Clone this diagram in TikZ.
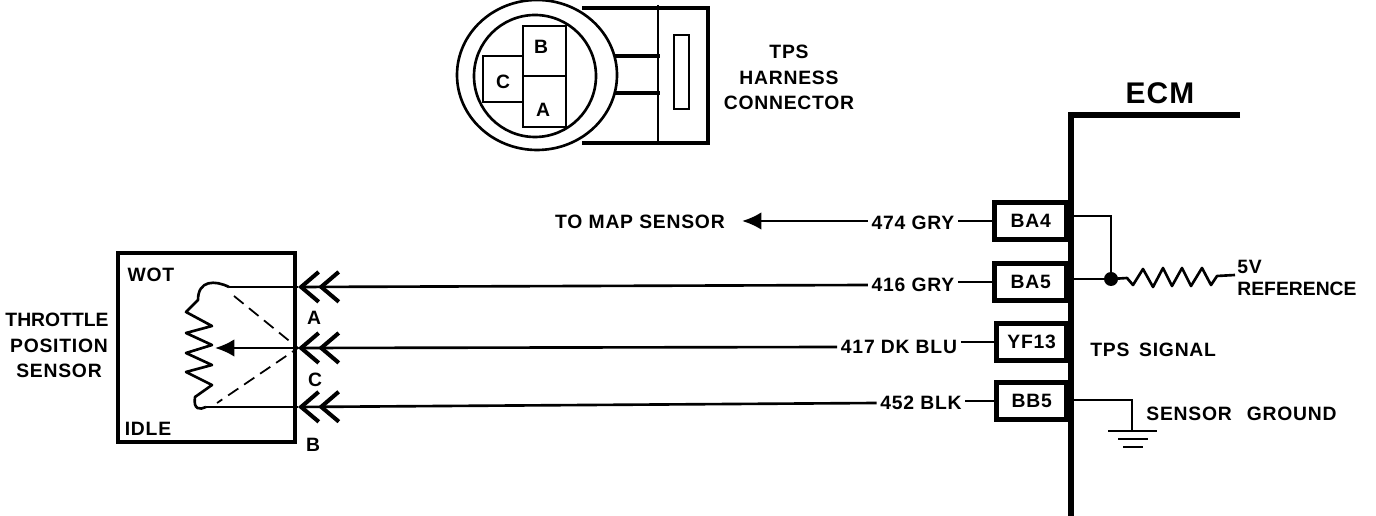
\documentclass[tikz,border=0pt]{standalone}
\usepackage{fontspec}
\setmainfont[LetterSpace=4]{Liberation Sans}
\newfontfamily\narrowfont[LetterSpace=0]{Liberation Sans}
\usetikzlibrary{arrows.meta}
\begin{document}
\begin{tikzpicture}[
    x=0.02cm,y=-0.02cm,
    line/.style={line width=1.5pt, black},
    thick line/.style={line width=2.8pt, black},
    plug/.style={line, -{Straight Barb[length=10pt,width=17pt,line width=2.3pt,sep=-1.5pt] Straight Barb[length=10pt,width=17pt,line width=2.3pt]}},
    label/.style={font=\bfseries\fontsize{11}{12}\selectfont, inner sep=2pt},
    leftlabel/.style={label, anchor=west, inner sep=0pt},
    pin/.style={draw, line width=2.6pt, label, minimum height=0.74cm, inner sep=0pt, anchor=east}
    ]
    \useasboundingbox (0, 0) rectangle (1376, 516);
    % harness connector
    \draw[line] (537, 75) ellipse [x radius=80, y radius=75];
    \draw[line] (535, 76) circle [radius=61];
    \draw[line] (523, 26) rectangle (566, 76);
    \draw[line] (523, 76) rectangle (566, 127);
    \draw[line] (523, 56) -- (483, 56) -- (483, 102) -- (523, 102);
    \draw[thick line] (582, 8) -- (708, 8) -- (708, 143) -- (582, 143);
    \draw[line] (658, 5) -- (658, 143);
    \draw[line] (674, 35) rectangle (689, 109);
    \draw[line width=2.2pt] (615, 56) -- (660, 56);
    \draw[line width=2.2pt] (615, 93) -- (660, 93);
    \node[label] (pinB) at (541, 47) {B};
    \node[label] (pinA) at (543, 110) {A};
    \node[label] (pinC) at (503, 82) {C};
    \node[label] (tps) at (789, 52) {TPS};
    \node[label] (harness) at (789, 78) {HARNESS};
    \node[label] (conn) at (789, 103) {CONNECTOR};
    % sensor
    \draw[thick line] (118, 253) rectangle (295, 442);
    \node[label] (wot) at (151, 275) {WOT};
    \node[label] (idle) at (148, 429) {IDLE};
    \node[label] (throttle) at (57, 320) {\narrowfont\bfseries THROTTLE};
    \node[label] (position) at (59, 346) {POSITION};
    \node[label] (sensor) at (59, 371) {SENSOR};
    \node[label] (termA) at (314, 318) {A};
    \node[label] (termC) at (315, 380) {C};
    \node[label] (termB) at (313, 445) {B};
    \coordinate (plugA) at (298, 287);
    \coordinate (plugC) at (298, 348);
    \coordinate (plugB) at (298, 407);
    \coordinate (wiper) at (215, 348);
    \coordinate (top) at (229, 287);
    \coordinate (bot) at (206, 407);
    \coordinate (dashTop) at (234, 296);
    \coordinate (dashBot) at (217, 403);
    \draw[line] (top) -- (plugA);
    \draw[line] (bot) -- (plugB);
    \draw[line, -{Latex[length=11pt,width=10pt]}] (plugC) -- (wiper);
    \draw[line width=1pt, dash pattern=on 7pt off 4pt] (dashTop) -- (plugC) -- (dashBot);
    \draw[line, line join=round] (top) .. controls (215, 280) and (198, 280) .. (198, 300)
      -- (186, 312) -- (212, 326) -- (186, 333) -- (212, 345) -- (186, 353)
      -- (212, 365) -- (186, 372) -- (212, 385) -- (195, 397)
      .. controls (193, 410) and (200, 410) .. (bot);
    % ecm
    \node[font=\bfseries\fontsize{17}{20}\selectfont, inner sep=0pt] (ecm) at (1160, 93) {ECM};
    \coordinate (busTop) at (1071, 115);
    \draw[line width=3.2pt] (1240, 115) -- (busTop) -- (1071, 516);
    \node[pin, minimum width=1.44cm] (ba4) at (1069, 221) {BA4};
    \node[pin, minimum width=1.44cm] (ba5) at (1069, 282) {BA5};
    \node[pin, minimum width=1.40cm] (yf13) at (1069, 342) {YF13};
    \node[pin, minimum width=1.40cm] (bb5) at (1069, 401) {BB5};
    \node[label] (w474) at (913, 223) {474 GRY};
    \node[label] (w416) at (913, 285) {416 GRY};
    \node[label] (w417) at (899, 347) {417 DK BLU};
    \node[label] (w452) at (921, 403) {452 BLK};
    \node[label] (map) at (640, 222) {TO MAP SENSOR};
    \coordinate (mapTip) at (742, 221);
    \draw[line, -{Latex[length=11pt,width=10pt]}] (w474.west |- mapTip) -- (mapTip);
    \draw[line] (w474.east |- ba4.west) -- (ba4.west);
    \draw[line] (w416.east |- ba5.west) -- (ba5.west);
    \draw[line] (w417.east |- yf13.west) -- (yf13.west);
    \draw[line] (w452.east |- bb5.west) -- (bb5.west);
    \draw[plug] (w416.west) -- (plugA);
    \draw[plug] (w417.west) -- (plugC);
    \draw[plug] (w452.west) -- (plugB);
    % 5v reference
    \coordinate (junc) at (1111, 279);
    \fill (junc) circle [radius=7];
    \draw[line] (1071, 216) -- (1111, 216) -- (junc);
    \draw[line] (1071, 279) -- (junc);
    \draw[line, line join=round] (junc) -- (1127, 278) -- (1133, 285) -- (1143, 269) -- (1153, 287)
      -- (1163, 268) -- (1172, 286) -- (1182, 268) -- (1191, 286) -- (1202, 268)
      -- (1211, 285) -- (1217, 276) -- (1235, 275);
    \node[leftlabel] (fivev) at (1237, 267) {5V};
    \node[leftlabel] (ref) at (1237, 289) {\narrowfont\bfseries REFERENCE};
    \node[leftlabel] (signal) at (1090, 350) {TPS\hspace{2pt} SIGNAL};
    \node[leftlabel] (ground) at (1146, 414) {SENSOR\hspace{5pt} GROUND};
    % ground
    \coordinate (gnd) at (1132, 431);
    \draw[line] (1071, 400) -- (1132, 400) -- (gnd);
    \draw[line] (1108, 431) -- (1157, 431);
    \draw[line] (1118, 439) -- (1148, 439);
    \draw[line] (1123, 447) -- (1143, 447);
  \end{tikzpicture}
\end{document}
